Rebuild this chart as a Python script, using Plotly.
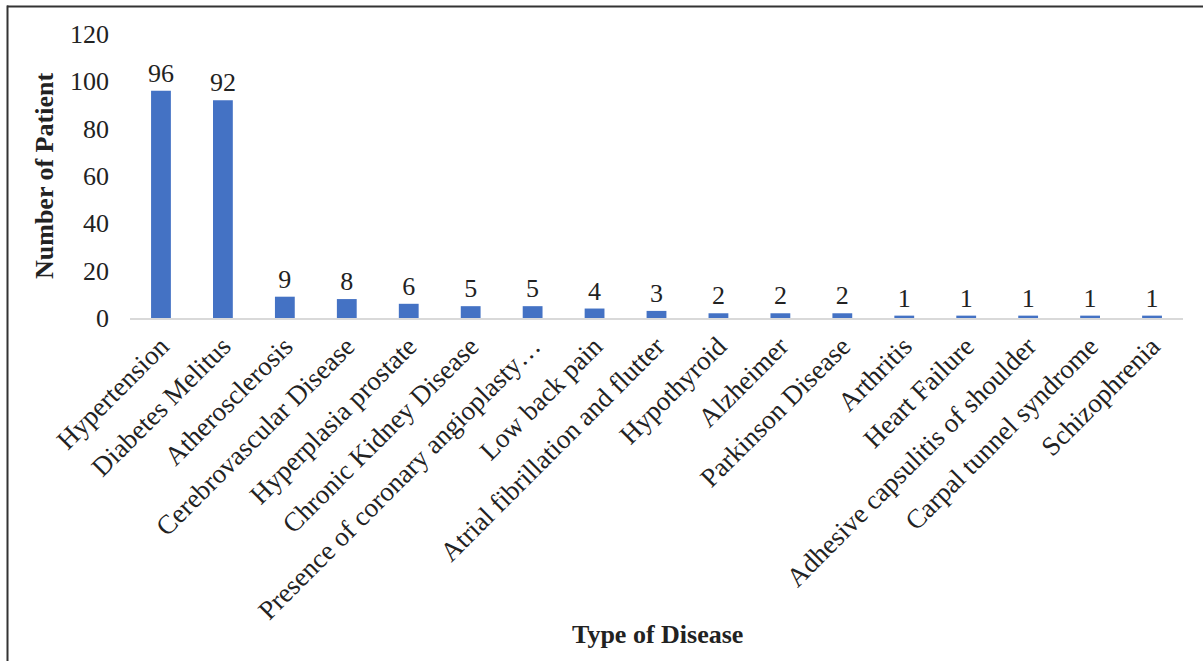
import plotly.graph_objects as go

# Patients per diagnosed disease
diseases = [
    "Hypertension",
    "Diabetes Melitus",
    "Atherosclerosis",
    "Cerebrovascular Disease",
    "Hyperplasia prostate",
    "Chronic Kidney Disease",
    "Presence of coronary angioplasty\u2026",
    "Low back pain",
    "Atrial fibrillation and flutter",
    "Hypothyroid",
    "Alzheimer",
    "Parkinson Disease",
    "Arthritis",
    "Heart Failure",
    "Adhesive capsulitis of shoulder",
    "Carpal tunnel syndrome",
    "Schizophrenia",
]
patients = [96, 92, 9, 8, 6, 5, 5, 4, 3, 2, 2, 2, 1, 1, 1, 1, 1]
y_ticks = [0, 20, 40, 60, 80, 100, 120]

SERIF = "Liberation Serif, Times New Roman, serif"
W, H = 1203, 661
ML, MR, MT, MB = 130, 20, 34, 343
PW, PH = W - ML - MR, H - MT - MB


def px_x(px):
    return (px - ML) / PW


def px_y(py):
    return (H - MB - py) / PH


fig = go.Figure(
    go.Bar(
        x=diseases,
        y=patients,
        marker=dict(color="#4472C4", line=dict(width=0)),
        width=0.32,
        text=[str(v) for v in patients],
        textposition="outside",
        constraintext="none",
        textfont=dict(family=SERIF, size=26, color="#222222"),
        cliponaxis=False,
    )
)

fig.update_layout(
    width=W,
    height=H,
    margin=dict(l=ML, r=MR, t=MT, b=MB, autoexpand=False),
    paper_bgcolor="white",
    plot_bgcolor="white",
    showlegend=False,
    font=dict(family=SERIF, color="#222222"),
    xaxis=dict(
        type="category",
        tickangle=-45,
        tickfont=dict(family=SERIF, size=27, color="#222222"),
        showline=True,
        linecolor="#d9d9d9",
        linewidth=1.5,
        showgrid=False,
        ticks="",
        automargin=False,
    ),
    yaxis=dict(
        range=[0, 120],
        tickvals=y_ticks,
        tickfont=dict(family=SERIF, size=26, color="#222222"),
        showline=False,
        showgrid=False,
        zeroline=False,
        ticks="",
        ticklabelstandoff=20,
        automargin=False,
    ),
    annotations=[
        dict(
            text="<b>Type of Disease</b>",
            xref="paper", yref="paper",
            x=px_x(657), y=px_y(634),
            showarrow=False,
            font=dict(family=SERIF, size=26, color="#222222"),
            xanchor="center", yanchor="middle",
        ),
        dict(
            text="<b>Number of Patient</b>",
            xref="paper", yref="paper",
            x=px_x(44), y=px_y(176),
            textangle=-90,
            showarrow=False,
            font=dict(family=SERIF, size=26, color="#222222"),
            xanchor="center", yanchor="middle",
        ),
    ],
    shapes=[
        # frame edges along the top and the left of the figure
        dict(type="line", xref="paper", yref="paper",
             x0=px_x(7), x1=px_x(W + 2), y0=px_y(6.5), y1=px_y(6.5),
             line=dict(color="#333333", width=2)),
        dict(type="line", xref="paper", yref="paper",
             x0=px_x(7.5), x1=px_x(7.5), y0=px_y(5.5), y1=px_y(H + 2),
             line=dict(color="#333333", width=2)),
    ],
)

fig.write_html("out.html")
